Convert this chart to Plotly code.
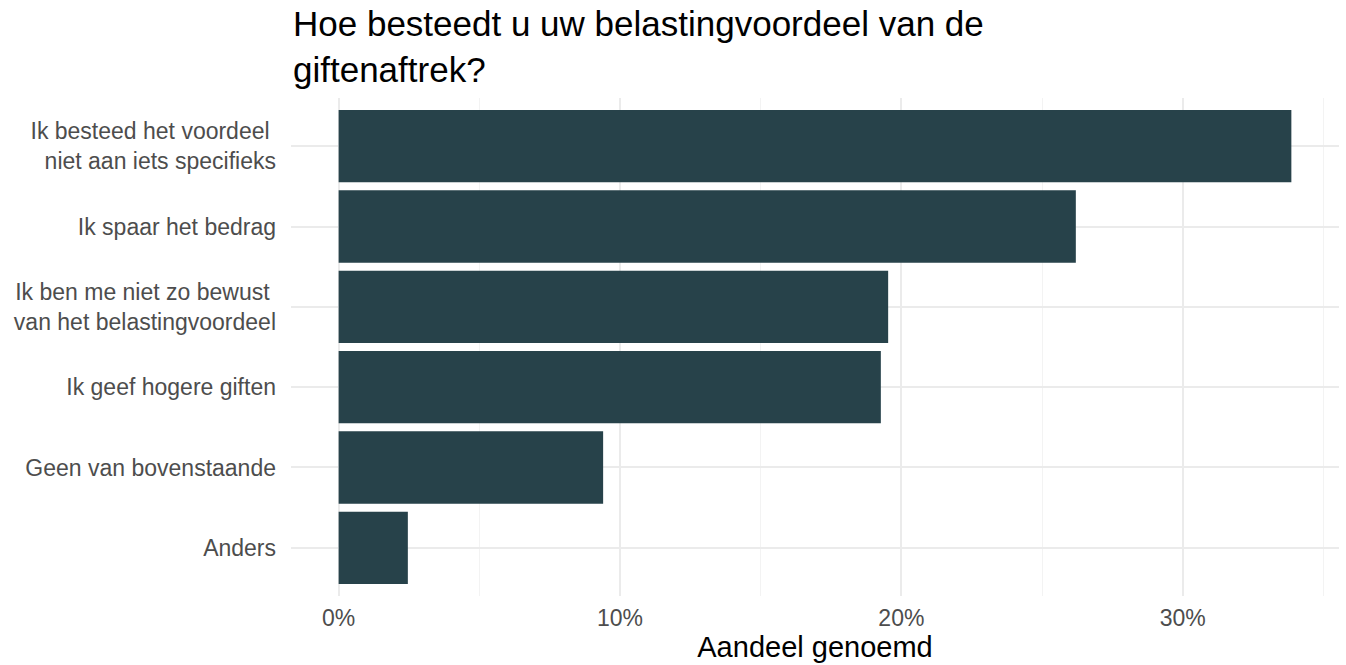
import plotly.graph_objects as go

# Survey answers, top to bottom, and share of respondents (%)
categories = [
    "Ik besteed het voordeel\u00a0<br>niet aan iets specifieks",
    "Ik spaar het bedrag",
    "Ik ben me niet zo bewust\u00a0<br>van het belastingvoordeel",
    "Ik geef hogere giften",
    "Geen van bovenstaande",
    "Anders",
]
shares = [33.86, 26.20, 19.53, 19.27, 9.40, 2.46]

x_ticks = [0, 10, 20, 30]
x_tick_labels = ["0%", "10%", "20%", "30%"]

title_text = "Hoe besteedt u uw belastingvoordeel van de<br>giftenaftrek?"

bar_color = "#27424A"
grid_major = "#EBEBEB"
grid_minor = "#F3F3F3"
font_family = "Liberation Sans, Arial, sans-serif"

fig = go.Figure(
    go.Bar(
        x=shares,
        y=categories,
        orientation="h",
        width=0.9,
        marker=dict(color=bar_color, line=dict(width=0)),
        hovertemplate="%{y}: %{x:.1f}%<extra></extra>",
    )
)

pad = max(shares) * 0.05
fig.update_layout(
    width=1346,
    height=665,
    margin=dict(l=291, r=7, t=98, b=69),
    paper_bgcolor="white",
    plot_bgcolor="white",
    showlegend=False,
    font=dict(family=font_family, color="#4D4D4D"),
    annotations=[
        dict(
            text=title_text,
            xref="paper",
            yref="paper",
            x=0,
            y=1,
            xanchor="left",
            yanchor="bottom",
            align="left",
            yshift=7,
            showarrow=False,
            font=dict(size=35, color="black", family=font_family),
        )
    ],
    xaxis=dict(
        range=[-pad, max(shares) + pad],
        tickvals=x_ticks,
        ticktext=x_tick_labels,
        tickfont=dict(size=23, color="#4D4D4D"),
        showgrid=True,
        gridcolor=grid_major,
        gridwidth=2,
        zeroline=False,
        showline=False,
        ticks="",
        ticklabelstandoff=6,
        minor=dict(dtick=5, tick0=0, showgrid=True, gridcolor=grid_minor, gridwidth=1.2),
        title=dict(text="Aandeel genoemd", font=dict(size=29, color="black"), standoff=2),
        fixedrange=True,
    ),
    yaxis=dict(
        categoryorder="array",
        categoryarray=categories,
        autorange=False,
        range=[len(categories) - 0.4, -0.6],
        tickfont=dict(size=23, color="#4D4D4D"),
        showgrid=True,
        gridcolor=grid_major,
        gridwidth=2,
        zeroline=False,
        showline=False,
        ticks="",
        ticklabelstandoff=14,
        fixedrange=True,
    ),
)

fig.write_html("out.html")
